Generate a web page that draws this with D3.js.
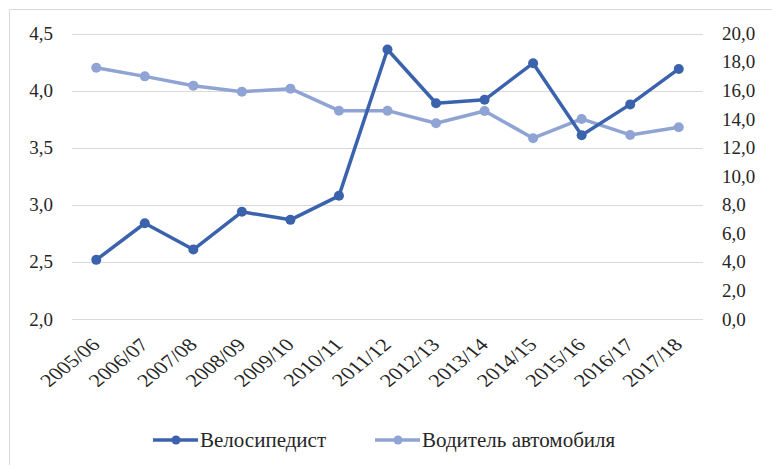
<!DOCTYPE html>
<html>
<head>
<meta charset="utf-8">
<script src="https://cdn.jsdelivr.net/npm/d3@7"></script>
</head>
<body style="margin:0">
<div id="chart"></div>
<script>
const width = 772
const height = 465
const margin = {top: 33.5, right: 69, bottom: 145.7, left: 72}

const seasons = ["2005/06","2006/07","2007/08","2008/09","2009/10","2010/11","2011/12","2012/13","2013/14","2014/15","2015/16","2016/17","2017/18"]
// left axis
const cyclist = [2.52, 2.84, 2.61, 2.94, 2.87, 3.08, 4.36, 3.89, 3.92, 4.24, 3.61, 3.88, 4.19]
// right axis
const driver = [17.6, 17.0, 16.35, 15.93, 16.14, 14.6, 14.6, 13.72, 14.58, 12.67, 14.02, 12.9, 13.44]
const leftTicks = [2.0, 2.5, 3.0, 3.5, 4.0, 4.5]
const rightTicks = [0, 2, 4, 6, 8, 10, 12, 14, 16, 18, 20]
const seriesNames = ["Велосипедист", "Водитель автомобиля"]

const darkBlue = "#3b63ad"
const lightBlue = "#8fa4d4"
const font = "'Liberation Serif', Tinos, 'Times New Roman', serif"
const fmt = v => d3.format(".1f")(v).replace(".", ",")

const svg = d3.select("div#chart").append("svg").attr("width", width).attr("height", height)
    .style("font-family", font)

// chart frame
svg.append("path").attr("d", "M9.5,465V9.5H772").attr("fill", "none").attr("stroke", "#d9d9d9")

const x = d3.scaleBand().domain(seasons).range([margin.left, width - margin.right])
const yL = d3.scaleLinear().domain([2, 4.5]).range([height - margin.bottom, margin.top])
const yR = d3.scaleLinear().domain([0, 20]).range([height - margin.bottom, margin.top])
const cx = d => x(d) + x.bandwidth() / 2

// grid
svg.append("g").selectAll("line").data(leftTicks).join("line")
    .attr("x1", margin.left).attr("x2", width - margin.right)
    .attr("y1", d => Math.round(yL(d)) + 0.5).attr("y2", d => Math.round(yL(d)) + 0.5)
    .attr("stroke", "#d9d9d9").attr("stroke-width", 1.2)

// left tick labels
svg.append("g").selectAll("text").data(leftTicks).join("text")
    .attr("x", 53).attr("y", d => yL(d))
    .attr("text-anchor", "end").attr("dy", "0.33em")
    .style("font-family", font).attr("font-size", 19).attr("fill", "#262626").text(d => fmt(d))

// right tick labels
svg.append("g").selectAll("text").data(rightTicks).join("text")
    .attr("x", 722).attr("y", d => yR(d))
    .attr("dy", "0.33em")
    .style("font-family", font).attr("font-size", 19).attr("fill", "#262626").text(d => fmt(d))

// x labels
svg.append("g").selectAll("text").data(seasons).join("text")
    .attr("transform", d => `translate(${cx(d) + 5}, 346) scale(1.25,1) rotate(-45)`)
    .attr("text-anchor", "end")
    .style("font-family", font).attr("font-size", 18).attr("fill", "#262626").text(d => d)

function drawSeries(values, scale, color, lw) {
    const pts = seasons.map((s, i) => [cx(s), scale(values[i])])
    svg.append("path").datum(pts)
        .attr("d", d3.line())
        .attr("fill", "none").attr("stroke", color)
        .attr("stroke-width", lw).attr("stroke-linejoin", "round")
    svg.append("g").selectAll("circle").data(pts).join("circle")
        .attr("cx", d => d[0]).attr("cy", d => d[1]).attr("r", 5)
        .attr("fill", color)
}

drawSeries(driver, yR, lightBlue, 3.5)
drawSeries(cyclist, yL, darkBlue, 3.5)

// legend
const legend = [
    {name: seriesNames[0], color: darkBlue, x0: 153},
    {name: seriesNames[1], color: lightBlue, x0: 375}
]
const lg = svg.append("g").selectAll("g").data(legend).join("g")
lg.append("line").attr("x1", d => d.x0).attr("x2", d => d.x0 + 45).attr("y1", 440).attr("y2", 440)
    .attr("stroke", d => d.color).attr("stroke-width", 3.5)
lg.append("circle").attr("cx", d => d.x0 + 23).attr("cy", 440).attr("r", 4.5).attr("fill", d => d.color)
lg.append("text").attr("x", d => d.x0 + 47).attr("y", 440)
    .attr("dy", "0.33em").style("font-family", font).attr("font-size", 21)
    .attr("fill", "#262626").text(d => d.name)
</script>
</body>
</html>
